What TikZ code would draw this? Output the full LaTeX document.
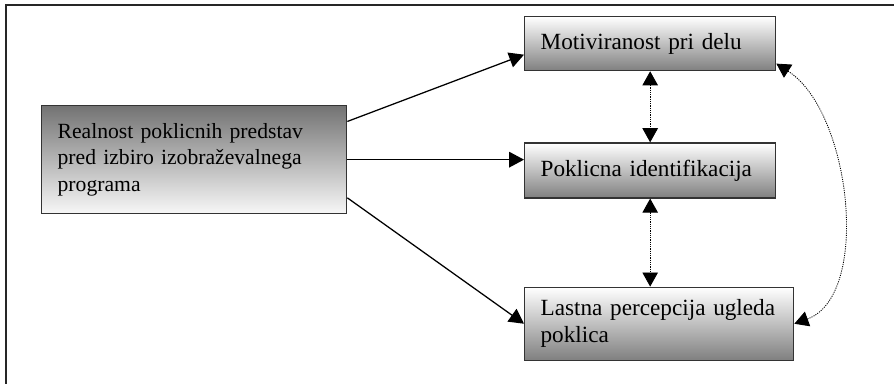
\documentclass[tikz,border=0pt]{standalone}
\usepackage{fontspec}
\setmainfont{Liberation Serif}
\usetikzlibrary{arrows.meta,positioning}

\begin{document}
\begin{tikzpicture}[
    x=0.025cm, y=-0.025cm,
    box/.style={rectangle, draw=black!80, line width=0.9pt, align=left,
                inner xsep=0.4cm, inner ysep=0pt,
                font=\fontsize{16.5}{19}\selectfont,
                top color=white, bottom color=black!50},
    realbox/.style={box, font=\fontsize{15.4}{19}\selectfont,
                    top color=black!55, bottom color=black!3},
    arrow/.style={-{Triangle[length=10.5pt,width=11pt]}, line width=0.9pt},
    dotarrow/.style={{Triangle[length=10pt,width=11pt]}-{Triangle[length=10pt,width=11pt]},
                     line width=0.6pt, dash pattern=on 0.8pt off 0.8pt}
  ]
  \useasboundingbox (0,0) rectangle (894,384);
  % ---- frame ----
  \draw[line width=1.4pt, black!85] (894,5) -- (6,5) -- (6,384);

  % ---- Boxes ----
  \node[realbox, anchor=north west, text width=6.825cm, minimum height=2.7cm]
    (real) at (41,105) {Realnost poklicnih predstav\\pred izbiro izobraževalnega\\programa};
  \node[box, anchor=north west, text width=5.475cm, minimum height=1.35cm]
    (mot) at (524,16) {Motiviranost pri delu};
  \node[box, below=1.775cm of mot, text width=5.475cm, minimum height=1.375cm]
    (pokl) {Poklicna identifikacija};
  \node[box, below=2.2cm of pokl.south west, anchor=north west,
        text width=5.925cm, minimum height=1.825cm]
    (lastna) {Lastna percepcija ugleda\\poklica};

  % ---- Arrows ----
  \draw[arrow] (real.14)  -- (mot.185);
  \draw[arrow] (real.east) -- (real.east -| pokl.west);
  \draw[arrow] (real.-14) -- (lastna.west);
  \draw[dotarrow] (mot.south) -- (pokl.north);
  \draw[dotarrow] (pokl.south) -- (pokl.south |- lastna.north);
  \draw[dotarrow] (mot.-9) .. controls +(75,48) and +(77,-28) .. (lastna.east);
\end{tikzpicture}
\end{document}
